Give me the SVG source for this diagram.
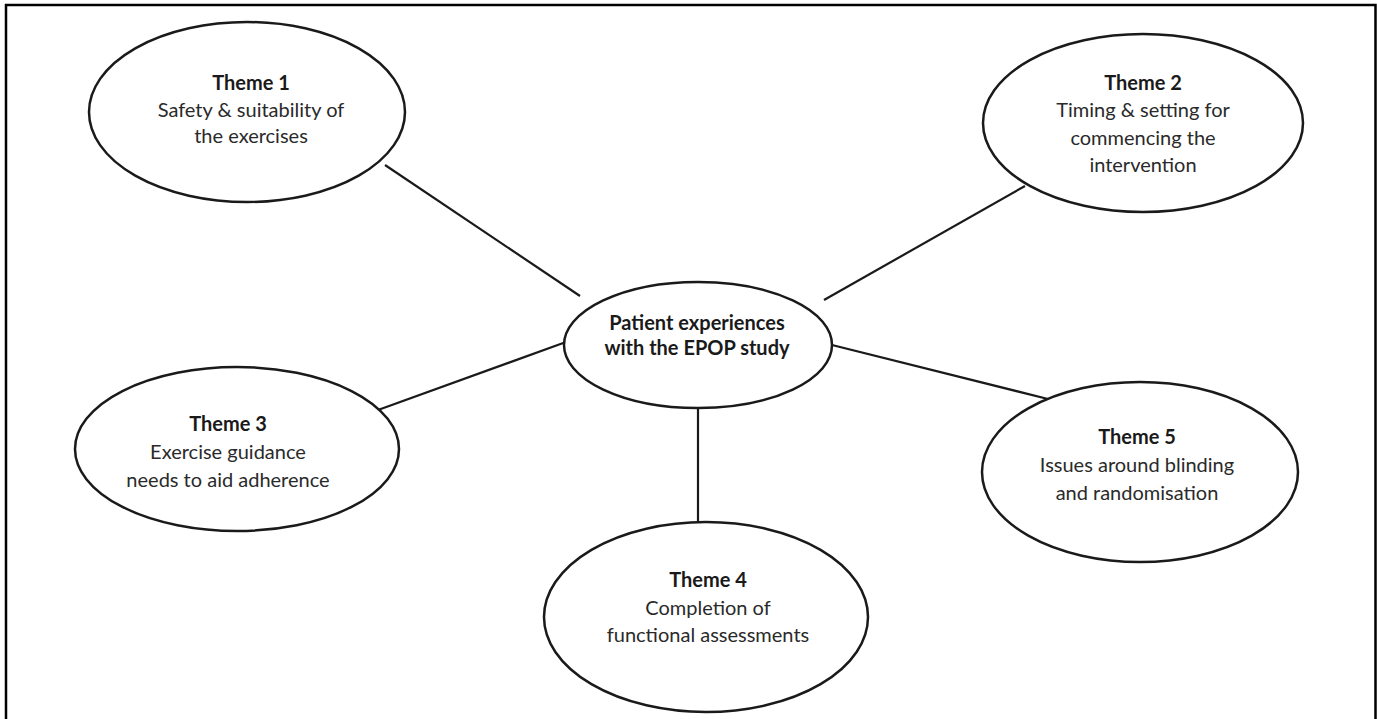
<svg xmlns="http://www.w3.org/2000/svg" width="1377" height="719" viewBox="0 0 1377 719">
<style>
.node ellipse{fill:#fff;stroke:#1a1a1a;stroke-width:2.5}
.conn line{stroke:#1a1a1a;stroke-width:2.2}
text{font-family:Lato,"Open Sans","Liberation Sans",sans-serif;font-size:20px;fill:#2a2a2a;text-anchor:middle}
.b{font-weight:bold;fill:#1a1a1a}
</style>
<rect width="1377" height="719" fill="#fff"/>
<path d="M6,725 V5 H1375.5 V725" fill="none" stroke="#000" stroke-width="2.5"/>
<g class="conn" id="connectors">
<line x1="385" y1="165" x2="580" y2="296"/>
<line x1="1025" y1="186" x2="824" y2="300"/>
<line x1="378" y1="410" x2="566" y2="342"/>
<line x1="832" y1="345" x2="1048" y2="399"/>
<line x1="698" y1="408" x2="698" y2="522"/>
</g>
<g class="node" id="center">
<ellipse cx="698" cy="345" rx="134" ry="63"/>
<text class="b" x="697" y="330">Patient experiences</text>
<text class="b" x="697" y="355">with the EPOP study</text>
</g>
<g class="node" id="theme1">
<ellipse cx="247" cy="112" rx="158" ry="90"/>
<text class="b" x="251" y="90">Theme 1</text>
<text x="251" y="117">Safety &amp; suitability of</text>
<text x="251" y="143">the exercises</text>
</g>
<g class="node" id="theme2">
<ellipse cx="1143" cy="123" rx="160" ry="89"/>
<text class="b" x="1143" y="90">Theme 2</text>
<text x="1143" y="117">Timing &amp; setting for</text>
<text x="1143" y="145">commencing the</text>
<text x="1143" y="172">intervention</text>
</g>
<g class="node" id="theme3">
<ellipse cx="237" cy="449" rx="162" ry="82"/>
<text class="b" x="228" y="431">Theme 3</text>
<text x="228" y="459">Exercise guidance</text>
<text x="228" y="487">needs to aid adherence</text>
</g>
<g class="node" id="theme4">
<ellipse cx="706" cy="617" rx="162" ry="95"/>
<text class="b" x="708" y="587">Theme 4</text>
<text x="708" y="615">Completion of</text>
<text x="708" y="642">functional assessments</text>
</g>
<g class="node" id="theme5">
<ellipse cx="1140" cy="472" rx="158" ry="90"/>
<text class="b" x="1137" y="444">Theme 5</text>
<text x="1137" y="472">Issues around blinding</text>
<text x="1137" y="500">and randomisation</text>
</g>
</svg>
